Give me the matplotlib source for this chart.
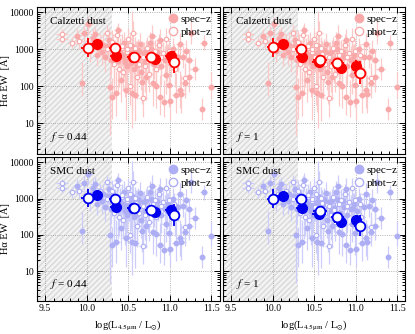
import matplotlib
matplotlib.use('Agg')
import matplotlib.pyplot as plt
import numpy as np
from matplotlib.ticker import MultipleLocator, LogLocator, NullFormatter, FixedLocator
from matplotlib.lines import Line2D

plt.rcParams['font.family'] = ['Liberation Serif', 'DejaVu Serif']
plt.rcParams['mathtext.fontset'] = 'stix'

# background galaxies: log L4.5, Halpha EW, lower/upper error (dex), x error, spec-z flag
bg_x = [9.70, 9.70, 9.82, 9.88, 9.91, 9.94, 9.97, 10.02, 10.04, 10.06, 10.08, 10.10, 10.12, 10.14,
        10.16, 10.18, 10.20, 10.22, 10.24, 10.25, 10.27, 10.28, 10.29, 10.30, 10.31, 10.32, 10.33,
        10.35, 10.36, 10.37, 10.38, 10.39, 10.40, 10.41, 10.42, 10.43, 10.44, 10.45, 10.46, 10.47,
        10.48, 10.49, 10.50, 10.51, 10.52, 10.53, 10.54, 10.55, 10.56, 10.57, 10.58, 10.59, 10.60,
        10.61, 10.62, 10.63, 10.64, 10.65, 10.66, 10.67, 10.68, 10.69, 10.70, 10.72, 10.73, 10.74,
        10.75, 10.76, 10.78, 10.79, 10.80, 10.81, 10.82, 10.83, 10.84, 10.86, 10.87, 10.88, 10.88,
        10.90, 10.92, 10.93, 10.94, 10.95, 10.96, 10.98, 10.99, 10.99, 11.00, 11.02, 11.04, 11.06,
        11.08, 11.10, 11.12, 11.12, 11.14, 11.16, 11.18, 11.18, 11.20, 11.23, 11.23, 11.26, 11.30,
        11.39, 11.41, 11.50,
        10.26, 10.30, 10.34, 10.36, 10.40, 10.43, 10.45, 10.48, 10.50, 10.52, 10.55, 10.58,
        10.60, 10.62, 10.65, 10.68, 10.71, 10.74, 10.77, 10.80, 10.85, 10.90, 10.97, 11.05,
        10.33, 10.38, 10.46, 10.53, 10.61, 10.70]
bg_y = [2600, 1900, 1500, 2200, 1650, 125, 2700, 4800, 900, 1300, 2000, 2500, 700, 1100,
        1600, 850, 1300, 600, 2800, 1000, 1800, 96, 500, 52, 750, 1300, 400,
        65, 2400, 900, 3200, 300, 600, 150, 1100, 700, 250, 1500, 450, 80,
        850, 350, 1900, 600, 100, 420, 65, 1200, 2800, 300, 60, 750, 500,
        180, 950, 400, 1400, 250, 650, 130, 48, 800, 350, 175, 1100, 550,
        220, 1500, 700, 2200, 120, 400, 900, 102, 300, 600, 1300, 52, 1800,
        350, 800, 38, 500, 1900, 200, 700, 110, 900, 40, 450, 1000, 300,
        59, 600, 1350, 80, 62, 620, 165, 123, 900, 520, 180, 2800, 295,
        25, 1480, 95,
        1200, 1600, 900, 1100, 800, 1250, 650, 1000, 720, 1300, 850, 1050,
        680, 560, 800, 620, 900, 480, 1000, 700, 850, 620, 560, 700,
        550, 480, 520, 700, 380, 450]
bg_lo = [.12, .12, .15, .2, .2, .35, .2, .3, .3, .2, .2, .2, .3, .25,
         .2, .35, .3, .4, .2, .3, .3, 1.3, .4, .6, .35, .3, .5,
         .6, .25, .3, .3, .5, .4, .6, .3, .3, .5, .3, .4, .8,
         .3, .5, .3, .4, .5, .5, .5, 2.2, .3, .6, .7, .35, .4,
         .6, .3, .4, .3, .5, .4, .6, .5, .3, .5, .6, .3, .4,
         .5, .3, .3, .3, .6, .4, .3, .6, .5, .4, .3, .5, .3,
         .5, .3, .4, .4, .3, .5, .3, .6, .3, .5, .4, .3, .5,
         .5, .4, .3, .5, .5, .3, .4, .4, .3, .3, .4, .3, .3,
         .3, .2, .3,
         .3, .3, .4, .3, .5, .3, .6, .4, .5, .3, .7, .4,
         .5, .6, .4, .5, .3, .6, .4, .5, .4, .5, .6, .4,
         .9, .8, 1.0, .7, .9, .8]
bg_hi = [.12, .12, .15, .2, .2, .55, .2, .2, .3, .2, .25, .2, .3, .25,
         .2, .3, .3, .4, .2, .3, .3, .6, .4, .5, .35, .3, .5,
         .6, .25, .3, .2, .5, .4, .5, .3, .3, .5, .3, .4, .6,
         .3, .5, .3, .4, .6, .4, .6, .95, .3, .5, .6, .35, .4,
         .5, .3, .4, .3, .5, .4, .5, .6, .3, .4, .5, .3, .4,
         .5, .3, .4, .3, .5, .4, .3, .6, .4, .4, .3, .6, .3,
         .4, .3, .6, .4, .3, .5, .3, .5, .3, .6, .4, .3, .4,
         .6, .4, .3, .5, .5, .3, .4, .4, .3, .3, .4, .3, .3,
         .3, .2, .4,
         .3, .3, .3, .3, .4, .3, .4, .3, .4, .3, .5, .3,
         .4, .4, .3, .4, .3, .4, .3, .4, .3, .4, .4, .3,
         .3, .3, .3, .3, .3, .3]
bg_xe = [.07, .07, .05, .05, .06, .03, .05, .05, .06, .05, .06, .06, .05, .05,
         .05, .05, .06, .05, .05, .05, .05, .05, .05, .04, .06, .05, .05,
         .05, .05, .06, .05, .05, .05, .05, .05, .05, .05, .06, .05, .05,
         .05, .05, .05, .05, .05, .05, .05, .05, .05, .05, .05, .05, .05,
         .05, .05, .05, .05, .05, .06, .05, .05, .05, .05, .05, .05, .05,
         .05, .05, .05, .05, .05, .05, .05, .05, .05, .05, .05, .05, .05,
         .05, .05, .04, .05, .05, .05, .05, .05, .05, .04, .05, .05, .05,
         .05, .05, .05, .05, .05, .05, .05, .05, .05, .05, .05, .05, .05,
         .03, .04, .04,
         .05, .05, .05, .05, .05, .05, .05, .05, .05, .05, .05, .05,
         .05, .05, .05, .05, .05, .05, .05, .05, .05, .05, .05, .05,
         .04, .04, .04, .04, .04, .04]
bg_spec = [0, 0, 0, 1, 0, 1, 1, 1, 1, 0, 1, 1, 1, 1,
           0, 1, 1, 1, 0, 0, 1, 1, 1, 1, 0, 1, 0,
           1, 0, 1, 1, 0, 1, 1, 0, 1, 0, 1, 1, 1,
           0, 1, 0, 0, 0, 1, 1, 1, 0, 1, 1, 0, 1,
           0, 1, 0, 1, 1, 0, 1, 0, 1, 0, 1, 0, 1,
           0, 1, 0, 1, 1, 1, 0, 1, 0, 1, 0, 1, 1,
           1, 0, 1, 1, 0, 1, 1, 1, 0, 1, 1, 1, 0,
           1, 1, 1, 1, 1, 1, 0, 1, 1, 1, 1, 1, 1,
           1, 1, 1,
           1, 0, 1, 0, 1, 0, 1, 0, 1, 0, 1, 0,
           1, 0, 1, 0, 1, 0, 1, 0, 1, 0, 1, 0,
           1, 1, 1, 1, 1, 1]

# binned medians per panel
bin_spec_x = [10.12, 10.35, 10.56, 10.82, 11.01]
bin_phot_x = [10.01, 10.34, 10.57, 10.78, 11.05]
cal044_spec = [1370, 675, 600, 550, 650]
cal044_phot = [1100, 1100, 620, 620, 450]
cal1_spec = [1350, 600, 455, 310, 360]
cal1_phot = [1130, 1020, 525, 430, 235]
smc044_spec = [1240, 600, 537, 430, 485]
smc044_phot = [1060, 960, 560, 485, 360]
smc1_spec = [1180, 537, 380, 225, 250]
smc1_phot = [1000, 960, 465, 305, 180]
bin_xerr = [0.08, 0.07, 0.08, 0.08, 0.07]
bin_yerr_spec = [0.12, 0.10, 0.12, 0.10, 0.14]
bin_yerr_phot = [0.25, 0.12, 0.12, 0.12, 0.30]

panels = [
    ('Calzetti dust', '0.44', cal044_spec, cal044_phot, 'red'),
    ('Calzetti dust', '1', cal1_spec, cal1_phot, 'red'),
    ('SMC dust', '0.44', smc044_spec, smc044_phot, 'blue'),
    ('SMC dust', '1', smc1_spec, smc1_phot, 'blue'),
]
colors = {
    'red': dict(light='#f9a9a9', bar='#fcc9c9', dark='#ff0000'),
    'blue': dict(light='#aeaef5', bar='#cdcdfa', dark='#0000ee'),
}

fig = plt.figure(figsize=(4.15, 3.34), dpi=100)
lefts = [0.089, 0.537]
bottoms = [0.539, 0.099]
w, hts = 0.44, [0.441, 0.431]

bx = np.array(bg_x)
by = np.array(bg_y)
blo = by - by / 10 ** np.array(bg_lo)
bhi = by * 10 ** np.array(bg_hi) - by
bspec = np.array(bg_spec, dtype=bool)

for k, (dust, fval, sy, py, cname) in enumerate(panels):
    r, c = divmod(k, 2)
    ax = fig.add_axes([lefts[c], bottoms[r], w, hts[r]])
    col = colors[cname]
    ax.set_xlim(9.4, 11.6)
    ax.set_ylim(1.5, 14000)
    ax.set_yscale('log')
    ax.axvspan(9.4, 10.3, facecolor='#f3f3f3', edgecolor='#d9d9d9', hatch='//////', lw=0, zorder=0)
    for xv in [9.5, 10.0, 10.5, 11.0, 11.5]:
        ax.axvline(xv, color='#9a9a9a', ls=':', lw=0.6, zorder=0.5)
    for yv in [10, 100, 1000, 10000]:
        ax.axhline(yv, color='#9a9a9a', ls=':', lw=0.6, zorder=0.5)

    # background points
    ax.errorbar(bx, by, yerr=[blo, bhi], xerr=bg_xe, fmt='none', ecolor=col['bar'],
                elinewidth=0.9, capsize=0, zorder=1)
    ax.plot(bx[bspec], by[bspec], 'o', ms=3.2, color=col['light'], mec=col['light'], zorder=2)
    ax.plot(bx[~bspec], by[~bspec], 'o', ms=3.2, mfc='white', mec=col['light'], mew=0.8, zorder=2)

    # binned medians
    sy = np.array(sy, dtype=float)
    py = np.array(py, dtype=float)
    ax.errorbar(bin_spec_x, sy, xerr=bin_xerr,
                yerr=[sy - sy / 10 ** np.array(bin_yerr_spec), sy * 10 ** np.array(bin_yerr_spec) - sy],
                fmt='o', ms=7, color=col['dark'], mec=col['dark'], elinewidth=1.3, capsize=0, zorder=4)
    ax.errorbar(bin_phot_x, py, xerr=bin_xerr,
                yerr=[py - py / 10 ** np.array(bin_yerr_phot), py * 10 ** np.array(bin_yerr_phot) - py],
                fmt='o', ms=7, mfc='white', mec=col['dark'], mew=1.3, ecolor=col['dark'],
                elinewidth=1.3, capsize=0, zorder=5)

    ax.text(0.07, 0.93, dust, transform=ax.transAxes, fontsize=8, va='top', ha='left')
    ax.text(0.07, 0.07, r'$f$ = ' + fval, transform=ax.transAxes, fontsize=8, va='bottom', ha='left')

    handles = [Line2D([], [], marker='o', ls='none', ms=6, color=col['light']),
               Line2D([], [], marker='o', ls='none', ms=6, mfc='white', mec=col['light'], mew=1)]
    ax.legend(handles, ['spec\u2212z', 'phot\u2212z'], loc='upper right', frameon=False,
              fontsize=8, handletextpad=0.2, borderaxespad=0.3, labelspacing=0.3, handlelength=1.0)

    ax.xaxis.set_major_locator(FixedLocator([9.5, 10.0, 10.5, 11.0, 11.5]))
    ax.xaxis.set_minor_locator(MultipleLocator(0.1))
    ax.yaxis.set_major_locator(FixedLocator([10, 100, 1000, 10000]))
    ax.yaxis.set_minor_locator(LogLocator(base=10, subs=np.arange(2, 10)))
    ax.yaxis.set_minor_formatter(NullFormatter())
    ax.tick_params(which='both', direction='in', top=True, right=True, labelsize=7, width=0.7, pad=2.5)
    ax.tick_params(which='major', length=4)
    ax.tick_params(which='minor', length=2)
    for s in ax.spines.values():
        s.set_linewidth(0.8)
    if c == 0:
        ax.set_yticklabels(['10', '100', '1000', '10000'])
        ax.set_ylabel('H\u03b1 EW  [\u00c5]', fontsize=7.5)
        ax.yaxis.set_label_coords(-0.145, 0.5)
    else:
        ax.set_yticklabels([])
    if r == 1:
        ax.set_xticklabels(['9.5', '10.0', '10.5', '11.0', '11.5'])
        ax.set_xlabel(r'log(L$_{4.5\mathrm{\mu m}}$ / L$_{\odot}$)', fontsize=7.5, labelpad=3)
    else:
        ax.set_xticklabels([])

fig.savefig('out.png', dpi=100)
